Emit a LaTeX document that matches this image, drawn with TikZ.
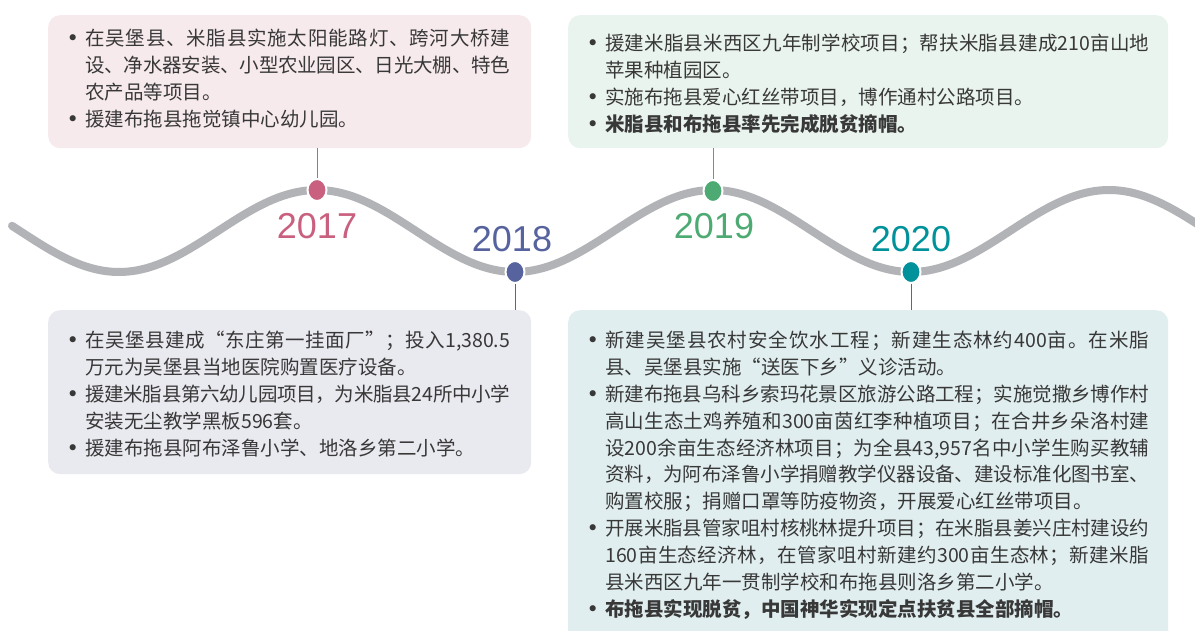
\documentclass[tikz,border=0pt]{standalone}
\usepackage{fontspec}
\setmainfont{Liberation Sans}
\newfontfamily\cjk{Noto Sans CJK SC}
\newfontfamily\dejavu{DejaVu Sans}
\usetikzlibrary{shapes.geometric}
\definecolor{cA}{HTML}{C9607F}
\definecolor{cB}{HTML}{56639E}
\definecolor{cC}{HTML}{4DAA72}
\definecolor{cD}{HTML}{00929A}
\definecolor{fA}{HTML}{F7EAED}
\definecolor{fB}{HTML}{E9E9F0}
\definecolor{fC}{HTML}{EAF4EE}
\definecolor{fD}{HTML}{E1EEEF}
\definecolor{wave}{HTML}{B2B3B7}
\definecolor{txtc}{HTML}{383838}
\makeatletter
\def\spr#1{\spr@a#1\spr@end}
\def\spr@a#1{#1\spr@b}
\def\spr@b#1{\ifx#1\spr@end\else\hskip 0pt plus 1fil minus 1pt\relax#1\expandafter\spr@b\fi}
\def\spr@end{\relax}
\makeatother
\newcommand{\bu}{\makebox[18.7pt][l]{\dejavu\fontsize{21}{21}\selectfont •}}
\newcommand{\ind}{\hspace*{18.7pt}}
\newcommand{\ja}[1]{\hbox to 425pt{\spr{#1}}}
\newcommand{\jb}[1]{\hbox to 544pt{\spr{#1}}}
\begin{document}
\begin{tikzpicture}[x=1pt,y=-1pt,
  box/.style={rounded corners=12pt, inner sep=0pt, anchor=north west, draw=none},
  dot/.style={ellipse, draw=white, line width=2pt, minimum width=19pt, minimum height=22pt, inner sep=0pt},
  year/.style={font=\fontsize{36}{36}\selectfont, inner sep=0pt},
  txt/.style={anchor=base west, inner sep=0pt, text width=600pt, align=left, text=txtc, font=\cjk\fontsize{19.5}{26.85}\selectfont},
  conn/.style={line width=1pt}]
\clip (0,0) rectangle (1195,631);
\fill[white] (0,0) rectangle (1195,631);
% boxes
\node[box, fill=fA, minimum width=483pt, minimum height=133pt] (b1) at (48,15) {};
\node[box, fill=fC, minimum width=600pt, minimum height=133pt] (b2) at (568,15) {};
\node[box, fill=fB, minimum width=483pt, minimum height=164pt] (b3) at (48,310) {};
\node[box, fill=fD, minimum width=600pt, minimum height=340pt] (b4) at (568,310) {};
% wave
\draw[wave, line width=8pt, line cap=round] plot[domain=12:1210, samples=240] (\x, {231-41*cos(0.9090909*(\x-317))});
% dots
\node[dot, fill=cA] (d17) at (317,190) {};
\node[dot, fill=cB] (d18) at (515,272) {};
\node[dot, fill=cC] (d19) at (713,191) {};
\node[dot, fill=cD] (d20) at (911,272) {};
% connectors
\draw[conn, cA] (d17 |- b1.south) -- (d17.north);
\draw[conn, cB] (d18.south) -- (d18 |- b3.north);
\draw[conn, cC] (d19 |- b2.south) -- (d19.north);
\draw[conn, cD] (d20.south) -- (d20 |- b4.north);
% years
\node[year, text=cA] (y17) at (317,226) {2017};
\node[year, text=cB] (y18) at (512,239) {2018};
\node[year, text=cC] (y19) at (714,226) {2019};
\node[year, text=cD] (y20) at (911,239) {2020};
% texts
\node[txt] (t1) at (66.3,45.6) {\bu\ja{在吴堡县、米脂县实施太阳能路灯、跨河大桥建}\\
\ind\ja{设、净水器安装、小型农业园区、日光大棚、特色}\\
\ind 农产品等项目。\\
\bu 援建布拖县拖觉镇中心幼儿园。};
\node[txt] (t2) at (586.3,50.6) {\bu\jb{援建米脂县米西区九年制学校项目；帮扶米脂县建成{210}亩山地}\\
\ind 苹果种植园区。\\
\bu 实施布拖县爱心红丝带项目，博作通村公路项目。\\
\bu \textbf{米脂县和布拖县率先完成脱贫摘帽。}};
\node[txt] (t3) at (66.3,347.6) {\bu\ja{在吴堡县建成“东庄第一挂面厂”；投入{1,380.5}}\\
\ind 万元为吴堡县当地医院购置医疗设备。\\
\bu\ja{援建米脂县第六幼儿园项目，为米脂县{24}所中小学}\\
\ind 安装无尘教学黑板596套。\\
\bu 援建布拖县阿布泽鲁小学、地洛乡第二小学。};
\node[txt] (t4) at (586.3,347.6) {\bu\jb{新建吴堡县农村安全饮水工程；新建生态林约{400}亩。在米脂}\\
\ind 县、吴堡县实施“送医下乡”义诊活动。\\
\bu\jb{新建布拖县乌科乡索玛花景区旅游公路工程；实施觉撒乡博作村}\\
\ind\jb{高山生态土鸡养殖和{300}亩茵红李种植项目；在合井乡朵洛村建}\\
\ind\jb{设{200}余亩生态经济林项目；为全县{43,957}名中小学生购买教辅}\\
\ind\jb{资料，为阿布泽鲁小学捐赠教学仪器设备、建设标准化图书室、}\\
\ind 购置校服；捐赠口罩等防疫物资，开展爱心红丝带项目。\\
\bu\jb{开展米脂县管家咀村核桃林提升项目；在米脂县姜兴庄村建设约}\\
\ind\jb{{160}亩生态经济林，在管家咀村新建约{300}亩生态林；新建米脂}\\
\ind 县米西区九年一贯制学校和布拖县则洛乡第二小学。\\
\bu \textbf{布拖县实现脱贫，中国神华实现定点扶贫县全部摘帽。}};
\end{tikzpicture}
\end{document}
